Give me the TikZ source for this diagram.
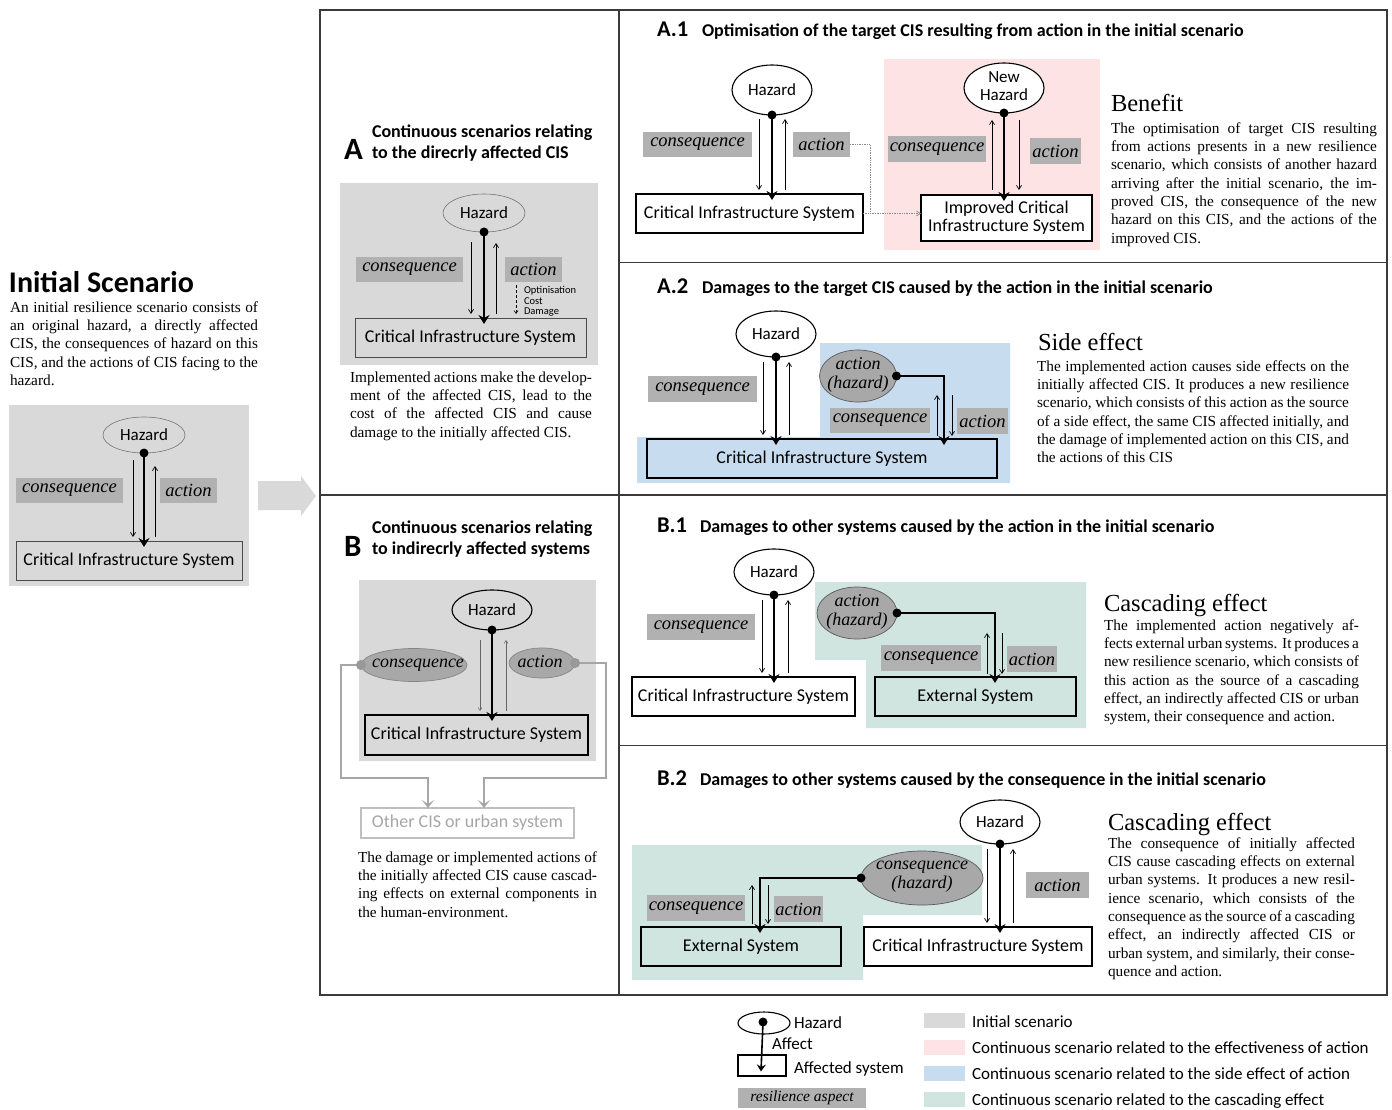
\documentclass[tikz,border=0pt]{standalone}
\usepackage{fontspec}
\setmainfont{Liberation Serif}
\newfontfamily\hsans{Carlito}
\usetikzlibrary{arrows.meta,shapes.geometric,calc}
\definecolor{bggray}{HTML}{D9D9D9}
\definecolor{lblgray}{HTML}{B1B1B1}
\definecolor{ellgray}{HTML}{A8A8A8}
\definecolor{pinkbg}{HTML}{FDE3E4}
\definecolor{bluebg}{HTML}{C7DCEE}
\definecolor{tealbg}{HTML}{D0E4E0}
\definecolor{framec}{HTML}{3A3A3A}
\newcommand\jj[1]{\hbox to\hsize{\strut #1}}
\newcommand\jlast[1]{\hbox{\strut #1}}
\newcommand\pbox[2]{\vbox{\hsize=#1\relax #2}}
\begin{document}
\begin{tikzpicture}[x=1pt,y=-1pt,
 every node/.style={inner sep=0pt,outer sep=0pt},
 sysbox/.style={draw=black,line width=1.1pt,font=\hsans\fontsize{18}{18}\selectfont,align=center},
 haz/.style={ellipse,draw=black,line width=1.1pt,fill=white,font=\hsans\fontsize{17}{18}\selectfont,align=center},
 hazg/.style={ellipse,draw=black!55,line width=0.6pt,font=\hsans\fontsize{17}{18}\selectfont},
 lbl/.style={fill=lblgray,font=\itshape\fontsize{18.5}{20}\selectfont},
 ellh/.style={ellipse,fill=ellgray,draw=black!65,line width=0.7pt},
 ellt/.style={font=\itshape\fontsize{18}{19}\selectfont,align=center},
 thk/.style={line width=2.6pt,-{Stealth[length=9pt,width=11pt,inset=3pt]}},
 thn/.style={line width=0.7pt,-{Straight Barb[length=4pt,width=5pt]}},
 para/.style={anchor=north west,font=\fontsize{15.3}{18.3}\selectfont},
 ttl/.style={anchor=base west,font=\hsans\bfseries\fontsize{18}{20}\selectfont},
 tnum/.style={anchor=base west,font=\hsans\bfseries\fontsize{22.5}{24}\selectfont},
 hd/.style={anchor=base west,font=\fontsize{24.5}{26}\selectfont},
 bigl/.style={anchor=base west,font=\hsans\bfseries\fontsize{31}{31}\selectfont},
 sect/.style={anchor=north west,font=\hsans\bfseries\fontsize{18}{21}\selectfont},
 lgt/.style={anchor=base west,font=\hsans\fontsize{17}{18}\selectfont},
]
\useasboundingbox (0,0) rectangle (1392,1110);
\fill[white] (0,0) rectangle (1392,1110);

% ================= Initial scenario =================
\node[anchor=base west,font=\hsans\bfseries\fontsize{30}{30}\selectfont] (itl) at (9,292.5) {Initial Scenario};
\node[para] (itx) at (10,299.5) {\pbox{248pt}{%
\jj{An initial resilience scenario consists of}
\jj{an original hazard, a directly affected}
\jj{CIS, the consequences of hazard on this}
\jj{CIS, and the actions of CIS facing to the}
\jlast{hazard.}}};
\fill[bggray] (9,405) rectangle (249,586);
\node[hazg,minimum width=82pt,minimum height=36pt] (ih) at (144,435) {Hazard};
\node[sysbox,line width=0.6pt,draw=black!70,minimum width=226pt,minimum height=39pt] (ic) at (129,560.5) {Critical Infrastructure System};
\node[lbl,minimum width=107pt,minimum height=25pt] (icq) at (69.5,490.5) {consequence};
\node[lbl,minimum width=57pt,minimum height=25pt] (iac) at (188.5,490.5) {action};
\draw[thk] (ih.south) -- ($(ih.south |- ic.north)+(0,6)$);
\fill (ih.south) circle[radius=4.5pt];
\draw[thn] ($(ih.south)+(-11,7)$) -- ($(ih.south |- ic.north)+(-11,-4)$);
\draw[thn] ($(ih.south |- ic.north)+(11,-4)$) -- ($(ih.south)+(11,13)$);

% big arrow
\fill[bggray] (258,481) -- (301,481) -- (301,476) -- (316,496) -- (301,516) -- (301,510) -- (258,510) -- cycle;

% ================= Frame =================
\draw[framec,line width=1.3pt] (320,10) rectangle (1387,995);
\draw[framec,line width=1.3pt] (619,10) -- (619,995);
\draw[framec,line width=1.3pt] (320,495) -- (1387,495);
\draw[framec,line width=1pt] (619,262) -- (1387,262);
\draw[framec,line width=1pt] (619,745) -- (1387,745);

% ================= Panel A =================
\node[bigl] (Alet) at (344,160) {A};
\node[sect] (Atl) at (372,123.3) {\pbox{240pt}{\jlast{Continuous scenarios relating}\jlast{to the direcrly affected CIS}}};
\fill[bggray] (340,183) rectangle (598,365);
\node[hazg,minimum width=82pt,minimum height=38pt] (ah) at (484,213) {Hazard};
\node[sysbox,line width=0.6pt,draw=black!70,minimum width=231pt,minimum height=39pt] (ac) at (470.5,337.5) {Critical Infrastructure System};
\node[lbl,minimum width=107pt,minimum height=25pt] (acq) at (409.5,269.5) {consequence};
\node[lbl,minimum width=57pt,minimum height=25pt] (aac) at (533.5,269.5) {action};
\draw[thk] (ah.south) -- ($(ah.south |- ac.north)+(0,6)$);
\fill (ah.south) circle[radius=4.5pt];
\draw[thn] ($(ah.south)+(-13,10)$) -- ($(ah.south |- ac.north)+(-13,-4)$);
\draw[thn] ($(ah.south |- ac.north)+(12,-4)$) -- ($(ah.south)+(12,11)$);
\draw[line width=0.6pt,densely dashed,-{Straight Barb[length=3pt,width=4pt]}] ($(aac.south west)+(11,3)$) -- ($(aac.south west |- ac.north)+(11,-4)$);
\node[anchor=north west,font=\hsans\fontsize{10.5}{10.5}\selectfont] (aopt) at (524,286.6) {\pbox{60pt}{\jlast{Optinisation}\jlast{Cost}\jlast{Damage}}};
\node[para] (atx) at (350,369.5) {\pbox{242pt}{%
\jj{Implemented actions make the develop-}
\jj{ment of the affected CIS, lead to the}
\jj{cost of the affected CIS and cause}
\jlast{damage to the initially affected CIS.}}};

% ================= Panel A.1 =================
\node[tnum] (a1n) at (657,37) {A.1};
\node[ttl] (a1t) at (702,37) {Optimisation of the target CIS resulting from action in the initial scenario};
\fill[pinkbg] (884,59) rectangle (1100,250);
\node[haz,minimum width=80pt,minimum height=50pt] (a1h) at (772,90) {Hazard};
\node[sysbox,fill=white,minimum width=227pt,minimum height=39pt] (a1c) at (749.5,213.5) {Critical Infrastructure System};
\node[lbl,minimum width=109pt,minimum height=25pt] (a1cq) at (697.5,144.5) {consequence};
\node[lbl,minimum width=57pt,minimum height=25pt] (a1ac) at (821.5,144.5) {action};
\draw[thk] (a1h.south) -- ($(a1h.south |- a1c.north)+(0,6)$);
\fill (a1h.south) circle[radius=4.5pt];
\draw[thn] ($(a1h.south)+(-13,4)$) -- ($(a1h.south |- a1c.north)+(-13,-4)$);
\draw[thn] ($(a1h.south |- a1c.north)+(13,-4)$) -- ($(a1h.south)+(13,4)$);
\node[haz,minimum width=80pt,minimum height=50pt] (a1nh) at (1004,88) {};
\node[font=\hsans\fontsize{17}{18}\selectfont,align=center] (a1nht) at (1004,86) {New\\Hazard};
\node[sysbox,fill=white,minimum width=171pt,minimum height=46pt] (a1imp) at (1006.5,218) {Improved Critical\\Infrastructure System};
\node[lbl,minimum width=98pt,minimum height=26pt] (a1cq2) at (937,149) {consequence};
\node[lbl,minimum width=51pt,minimum height=26pt] (a1ac2) at (1055.5,151) {action};
\draw[thk] (a1nh.south) -- ($(a1nh.south |- a1imp.north)+(0,6)$);
\fill (a1nh.south) circle[radius=4.5pt];
\draw[thn] ($(a1nh.south |- a1imp.north)+(-12,-5)$) -- ($(a1nh.south)+(-12,7)$);
\draw[thn] ($(a1nh.south)+(15,7)$) -- ($(a1nh.south |- a1imp.north)+(15,-5)$);
\coordinate (a1j) at (870,213.5);
\draw[black!45,line width=0.7pt,densely dotted] (a1ac.east) -| (a1j);
\draw[black!45,line width=0.7pt,densely dotted,-{Straight Barb[length=4pt,width=5pt]}] (a1c.east) -- (a1imp.west |- a1c.east);
\node[hd] (a1hd) at (1111,112) {Benefit};
\node[para] (a1tx) at (1111,120.5) {\pbox{266pt}{%
\jj{The optimisation of target CIS resulting}
\jj{from actions presents in a new resilience}
\jj{scenario, which consists of another hazard}
\jj{arriving after the initial scenario, the im-}
\jj{proved CIS, the consequence of the new}
\jj{hazard on this CIS, and the actions of the}
\jlast{improved CIS.}}};

% ================= Panel A.2 =================
\node[tnum] (a2n) at (657,293) {A.2};
\node[ttl] (a2t) at (702,293) {Damages to the target CIS caused by the action in the initial scenario};
\fill[bluebg] (820,343) -- (1010,343) -- (1010,483) -- (637,483) -- (637,437) -- (820,437) -- cycle;
\node[haz,minimum width=80pt,minimum height=46pt] (a2h) at (776,334) {Hazard};
\node[sysbox,fill=bluebg,minimum width=350pt,minimum height=39pt] (a2c) at (822,458.5) {Critical Infrastructure System};
\node[lbl,minimum width=109pt,minimum height=26pt] (a2cq) at (702.5,389) {consequence};
\draw[thk] (a2h.south) -- ($(a2h.south |- a2c.north)+(0,6)$);
\fill (a2h.south) circle[radius=4.5pt];
\draw[thn] ($(a2h.south)+(-13,5)$) -- ($(a2h.south |- a2c.north)+(-13,-4)$);
\draw[thn] ($(a2h.south |- a2c.north)+(13,-4)$) -- ($(a2h.south)+(13,5)$);
\node[ellh,minimum width=77pt,minimum height=52pt] (a2ah) at (858,376) {};
\node[ellt] (a2aht) at (858,375) {action\\(hazard)};
\coordinate (a2x) at (944,439);
\draw[thk] (a2ah.east) -| ($(a2x)+(0,6)$);
\fill (a2ah.east) circle[radius=4.5pt];
\draw[thn] ($(a2x)+(-7,-3)$) -- ($(a2x)+(-7,-44)$);
\draw[thn] ($(a2x)+(8,-44)$) -- ($(a2x)+(8,-3)$);
\node[lbl,minimum width=100pt,minimum height=25pt] (a2cq2) at (880,420.5) {consequence};
\node[lbl,minimum width=51pt,minimum height=26pt] (a2ac2) at (982.5,421) {action};
\node[hd] (a2hd) at (1038,350) {Side effect};
\node[para] (a2tx) at (1037,358.5) {\pbox{312pt}{%
\jj{The implemented action causes side effects on the}
\jj{initially affected CIS. It produces a new resilience}
\jj{scenario, which consists of this action as the source}
\jj{of a side effect, the same CIS affected initially, and}
\jj{the damage of implemented action on this CIS, and}
\jlast{the actions of this CIS}}};

% ================= Panel B =================
\node[bigl] (Blet) at (344,556) {B};
\node[sect] (Btl) at (372,518.3) {\pbox{240pt}{\jlast{Continuous scenarios relating}\jlast{to indirecrly affected systems}}};
\fill[bggray] (359,580) rectangle (596,761);
\node[ellipse,draw=black,line width=1.1pt,minimum width=80pt,minimum height=40pt,font=\hsans\fontsize{17}{18}\selectfont] (bh) at (492,610) {Hazard};
\node[sysbox,line width=1.6pt,minimum width=223pt,minimum height=40pt] (bc) at (476.5,735) {Critical Infrastructure System};
\draw[thk] (bh.south) -- ($(bh.south |- bc.north)+(0,6)$);
\fill (bh.south) circle[radius=4.5pt];
\draw[line width=0.5pt,black!60,-{Straight Barb[length=3pt,width=4pt]}] ($(bh.south)+(-12,10)$) -- ($(bh.south |- bc.north)+(-12,-4)$);
\draw[line width=0.5pt,black!60,-{Straight Barb[length=3pt,width=4pt]}] ($(bh.south |- bc.north)+(14,-4)$) -- ($(bh.south)+(14,10)$);
\node[ellh,draw=ellgray!80!black,minimum width=106pt,minimum height=33pt] (bcq) at (414,665) {};
\node[ellt] (bcqt) at (418,665) {consequence};
\node[ellh,draw=ellgray!80!black,minimum width=66pt,minimum height=30pt] (bac) at (542,663) {};
\node[ellt] (bact) at (540,662) {action};
\node[draw=black!25,line width=1.2pt,minimum width=213pt,minimum height=30pt,text=black!35,font=\hsans\fontsize{18}{18}\selectfont] (bo) at (467.5,823) {Other CIS or urban system};
\coordinate (bL) at (341,778);
\coordinate (bR) at (606,778);
\draw[black!35,line width=1.8pt,-{Stealth[length=8pt,width=12pt,inset=4pt]}] (bcq.west) -| (bL) -| ($(bo.north)+(-39.5,0)$);
\draw[black!35,line width=1.8pt,-{Stealth[length=8pt,width=12pt,inset=4pt]}] (bac.east) -| (bR) -| ($(bo.north)+(16.5,0)$);
\fill[black!40] (bcq.west) circle[radius=5pt];
\fill[black!40] (bac.east) circle[radius=5pt];
\node[para] (btx) at (358,849.5) {\pbox{239pt}{%
\jj{The damage or implemented actions of}
\jj{the initially affected CIS cause cascad-}
\jj{ing effects on external components in}
\jlast{the human-environment.}}};

% ================= Panel B.1 =================
\node[tnum] (b1n) at (657,532) {B.1};
\node[ttl] (b1t) at (700,532) {Damages to other systems caused by the action in the initial scenario};
\fill[tealbg] (815,582) -- (1086,582) -- (1086,728) -- (866,728) -- (866,660) -- (815,660) -- cycle;
\node[haz,minimum width=80pt,minimum height=46pt] (b1h) at (774,572) {Hazard};
\node[sysbox,fill=white,minimum width=223pt,minimum height=39pt] (b1c) at (743.5,696.5) {Critical Infrastructure System};
\node[lbl,minimum width=108pt,minimum height=26pt] (b1cq) at (701,627) {consequence};
\draw[thk] (b1h.south) -- ($(b1h.south |- b1c.north)+(0,6)$);
\fill (b1h.south) circle[radius=4.5pt];
\draw[thn] ($(b1h.south)+(-12,5)$) -- ($(b1h.south |- b1c.north)+(-12,-4)$);
\draw[thn] ($(b1h.south |- b1c.north)+(14,-4)$) -- ($(b1h.south)+(14,5)$);
\node[ellh,minimum width=80pt,minimum height=52pt] (b1ah) at (857,613) {};
\node[ellt] (b1aht) at (857,612) {action\\(hazard)};
\node[sysbox,fill=tealbg,minimum width=201pt,minimum height=39pt] (b1e) at (975.5,696.5) {External System};
\coordinate (b1x) at (995,677);
\draw[thk] (b1ah.east) -| ($(b1x)+(0,6)$);
\fill (b1ah.east) circle[radius=4.5pt];
\draw[thn] ($(b1x)+(-8,-3)$) -- ($(b1x)+(-8,-44)$);
\draw[thn] ($(b1x)+(7,-44)$) -- ($(b1x)+(7,-3)$);
\node[lbl,minimum width=100pt,minimum height=26pt] (b1cq2) at (931,658) {consequence};
\node[lbl,minimum width=50pt,minimum height=26pt] (b1ac2) at (1032,659) {action};
\node[hd] (b1hd) at (1104,611) {Cascading effect};
\node[para] (b1tx) at (1104,617.5) {\pbox{255pt}{%
\jj{The implemented action negatively af-}
\jj{fects external urban systems. It produces a}
\jj{new resilience scenario, which consists of}
\jj{this action as the source of a cascading}
\jj{effect, an indirectly affected CIS or urban}
\jlast{system, their consequence and action.}}};

% ================= Panel B.2 =================
\node[tnum] (b2n) at (657,785) {B.2};
\node[ttl] (b2t) at (700,785) {Damages to other systems caused by the consequence in the initial scenario};
\fill[tealbg] (632,845) -- (982,845) -- (982,915) -- (863,915) -- (863,980) -- (632,980) -- cycle;
\node[haz,minimum width=80pt,minimum height=44pt] (b2h) at (1000,822) {Hazard};
\node[sysbox,fill=white,minimum width=228pt,minimum height=39pt] (b2c) at (978,946.5) {Critical Infrastructure System};
\node[lbl,minimum width=63pt,minimum height=26pt] (b2ac) at (1057.5,885) {action};
\draw[thk] (b2h.south) -- ($(b2h.south |- b2c.north)+(0,6)$);
\fill (b2h.south) circle[radius=4.5pt];
\draw[thn] ($(b2h.south)+(-13,5)$) -- ($(b2h.south |- b2c.north)+(-13,-4)$);
\draw[thn] ($(b2h.south |- b2c.north)+(13,-4)$) -- ($(b2h.south)+(13,5)$);
\node[ellh,minimum width=122pt,minimum height=54pt] (b2ch) at (922,878) {};
\node[ellt] (b2cht) at (922,877) {consequence\\(hazard)};
\node[sysbox,fill=tealbg,minimum width=200pt,minimum height=39pt] (b2e) at (741,946.5) {External System};
\coordinate (b2x) at (760,927);
\draw[thk] (b2ch.west) -| ($(b2x)+(0,6)$);
\fill (b2ch.west) circle[radius=4.5pt];
\draw[thn] ($(b2x)+(-8,-3)$) -- ($(b2x)+(-8,-42)$);
\draw[thn] ($(b2x)+(8,-42)$) -- ($(b2x)+(8,-3)$);
\node[lbl,minimum width=98pt,minimum height=26pt] (b2cq2) at (696,908) {consequence};
\node[lbl,minimum width=49pt,minimum height=26pt] (b2ac2) at (798.5,909) {action};
\node[hd] (b2hd) at (1108,830) {Cascading effect};
\node[para] (b2tx) at (1108,835.5) {\pbox{247pt}{%
\jj{The consequence of initially affected}
\jj{CIS cause cascading effects on external}
\jj{urban systems. It produces a new resil-}
\jj{ience scenario, which consists of the}
\jj{consequence as the source of a cascading}
\jj{effect, an indirectly affected CIS or}
\jj{urban system, and similarly, their conse-}
\jlast{quence and action.}}};

% ================= Legend =================
\node[ellipse,draw=black,line width=1.1pt,minimum width=52pt,minimum height=22pt] (lgh) at (764,1023) {};
\node[draw=black,line width=1.1pt,minimum width=48pt,minimum height=21pt] (lgb) at (762,1065.5) {};
\draw[line width=1.6pt,-{Stealth[length=7pt,width=9pt,inset=2.5pt]}] ($(lgh.center)+(-1,-1)$) -- ($(lgb.center)+(-1,6)$);
\fill ($(lgh.center)+(-1,-1)$) circle[radius=4.5pt];
\node[lgt] (lg1) at (794,1028) {Hazard};
\node[lgt] (lg2) at (772,1049) {Affect};
\node[lgt] (lg3) at (794,1073) {Affected system};
\node[lbl,minimum width=128pt,minimum height=20pt,font=\itshape\fontsize{15.5}{17}\selectfont] (lgr) at (802,1098) {resilience aspect};
\fill[bggray] (924,1013) rectangle (965,1028);
\fill[pinkbg] (924,1040) rectangle (965,1055);
\fill[bluebg] (924,1066) rectangle (965,1081);
\fill[tealbg] (924,1092) rectangle (965,1107);
\node[lgt] (lc1) at (972,1027) {Initial scenario};
\node[lgt] (lc2) at (972,1053) {Continuous scenario related to the effectiveness of action};
\node[lgt] (lc3) at (972,1079) {Continuous scenario related to the side effect of action};
\node[lgt] (lc4) at (972,1105) {Continuous scenario related to the cascading effect};
\end{tikzpicture}
\end{document}
